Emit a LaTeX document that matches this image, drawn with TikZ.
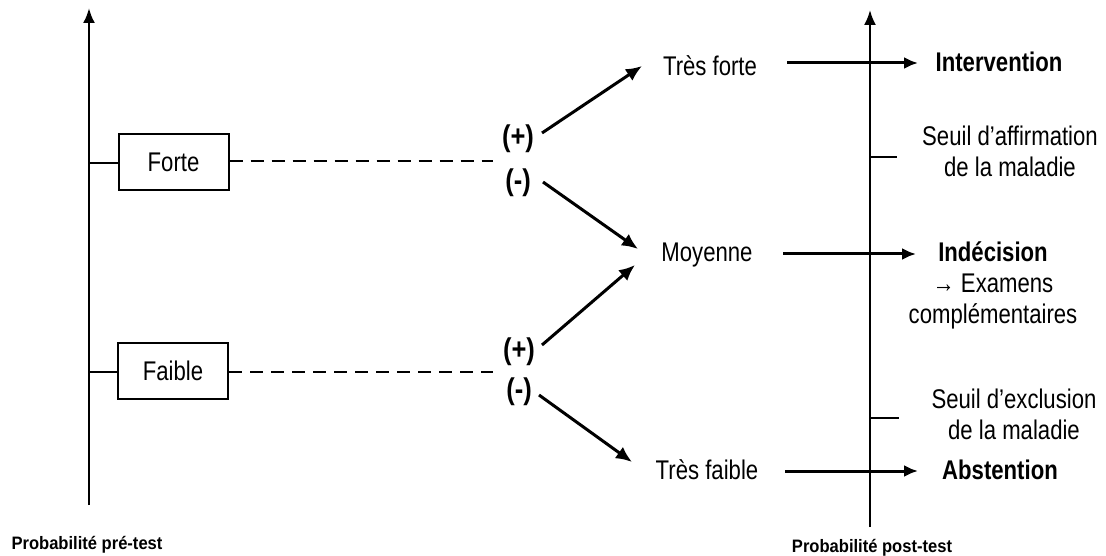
\documentclass[tikz,border=0pt]{standalone}
\usepackage{fontspec}
\setmainfont{Liberation Sans}
\usetikzlibrary{arrows.meta,calc}
\newcommand{\nar}[1]{\scalebox{0.82}[1]{#1}}

\begin{document}
\begin{tikzpicture}[x=1pt,y=-1pt,
  txt/.style={font=\fontsize{27}{31}\selectfont, inner sep=0pt, align=center},
  sign/.style={font=\fontsize{30}{32}\selectfont\bfseries, inner sep=0pt},
  axislbl/.style={font=\fontsize{18}{20}\selectfont\bfseries, inner sep=0pt},
  probbox/.style={draw, line width=2pt, minimum width=110pt, minimum height=56pt,
                  inner sep=0pt, font=\fontsize{27}{31}\selectfont},
  axisline/.style={line width=2.5pt, -{Latex[length=15pt,width=12pt]}},
  tickline/.style={line width=2pt},
  dashline/.style={line width=2pt, dash pattern=on 13pt off 8pt},
  arr/.style={line width=3pt, -{Latex[length=16pt,width=14pt]}},
  harr/.style={line width=3pt, -{Latex[length=14pt,width=12pt]}}]
\useasboundingbox (0,0) rectangle (1106,556);

% pre-test axis
\coordinate (Lbot) at (89,505);
\coordinate (Ltop) at (89,8);
\draw[axisline] (Lbot) -- (Ltop);

% post-test axis
\coordinate (Rbot) at (870,527);
\coordinate (Rtop) at (870,10);
\draw[axisline, line width=2.2pt] (Rbot) -- (Rtop);

% pre-test probability boxes
\node[probbox] (forte) at (173.5,162.5) {\nar{Forte}};
\node[probbox] (faible) at (173,371) {\nar{Faible}};
\coordinate (tF) at (89,163);
\coordinate (tf) at (89,372);
\draw[tickline] (tF) -- (forte.west |- tF);
\draw[tickline] (tf) -- (faible.west |- tf);

% test results
\node[sign] (pF) at (518,139) {\scalebox{0.85}[1]{(+)}};
\node[sign] (mF) at (518,183) {\scalebox{0.85}[1]{(-)}};
\node[sign] (pf) at (519,352) {\scalebox{0.85}[1]{(+)}};
\node[sign] (mf) at (519,392) {\scalebox{0.85}[1]{(-)}};

\coordinate (dF) at (493,161);
\coordinate (df) at (493,372);
\draw[dashline] (forte.east |- dF) -- (dF);
\draw[dashline] (faible.east |- df) -- (df);

% post-test levels
\node[txt] (tforte) at (710,66) {\nar{Très forte}};
\node[txt] (moy) at (707,255) {\nar{Moyenne}};
\node[txt] (tfaible) at (707,470) {\nar{Très faible}};

\draw[arr] ($(pF.center)+(24,-6)$) -- ($(tforte.center)+(-68,0)$);
\draw[arr] ($(mF.center)+(25,-1)$) -- ($(moy.center)+(-69,-6)$);
\draw[arr] ($(pf.center)+(23,-7)$) -- ($(moy.center)+(-72,10)$);
\draw[arr] ($(mf.center)+(20,3)$) -- ($(tfaible.center)+(-75,-8)$);

% decisions
\node[txt, font=\fontsize{27}{31}\selectfont\bfseries] (interv) at (999,62) {\nar{Intervention}};
\node[txt] (indec) at (993,285)
  {\textbf{\nar{Indécision}}\\\nar{\textrightarrow\ Examens}\\\nar{complémentaires}};
\node[txt, font=\fontsize{27}{31}\selectfont\bfseries] (abst) at (1000,470) {\nar{Abstention}};

\coordinate (aI) at (787,63);
\coordinate (aM) at (783,254);
\coordinate (aA) at (785,471);
\coordinate (eI) at (918,63);
\coordinate (eM) at (916,254);
\coordinate (eA) at (918,471);
\draw[harr] (aI) -- (eI);
\draw[harr] (aM) -- (eM);
\draw[harr] (aA) -- (eA);

% thresholds
\coordinate (sAff) at (870,157);
\coordinate (sExc) at (870,418);
\draw[tickline] (sAff) -- ++(27,0);
\draw[tickline] (sExc) -- ++(29,0);
\node[txt] (affirm) at (1010,151) {\nar{Seuil d'affirmation}\\\nar{de la maladie}};
\node[txt] (exclu) at (1014,414) {\nar{Seuil d'exclusion}\\\nar{de la maladie}};

% axis titles
\node[axislbl] (pre) at (87,545) {\scalebox{0.92}[1]{Probabilité pré-test}};
\node[axislbl] (post) at (872,548) {\scalebox{0.92}[1]{Probabilité post-test}};
\end{tikzpicture}
\end{document}
